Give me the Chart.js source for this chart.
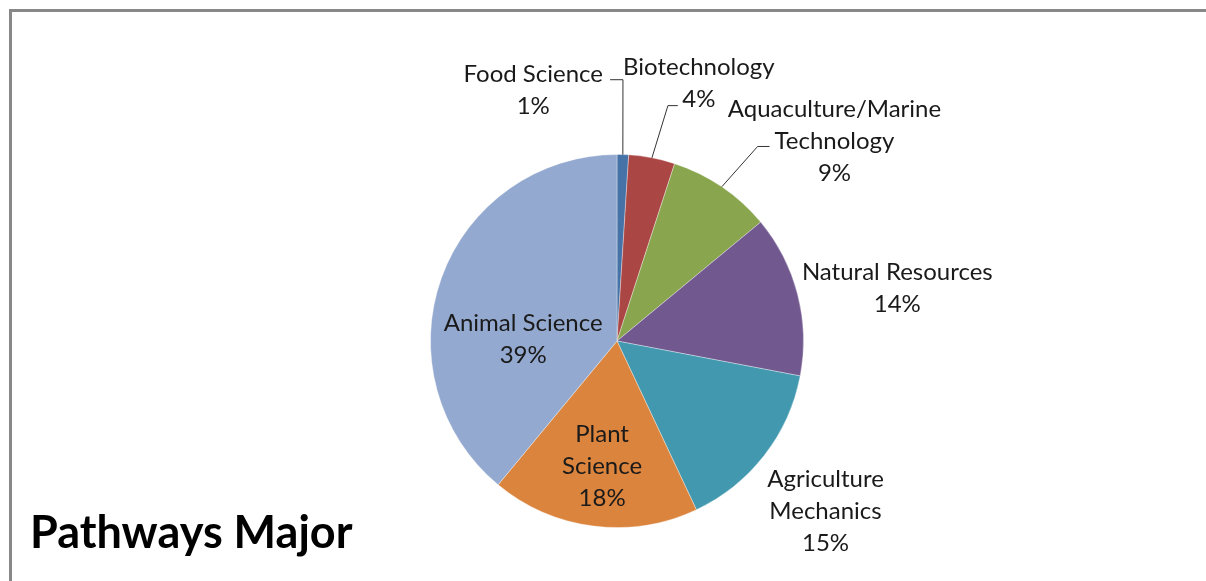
<!DOCTYPE html>
<html>
<head>
<meta charset="utf-8">
<title>Pathways Major</title>
<script src="https://cdn.jsdelivr.net/npm/chart.js@4.4.1/dist/chart.umd.min.js"></script>
<style>
    html, body { margin: 0; padding: 0; background: #fff; overflow: hidden; }
    #wrap { position: relative; width: 1206px; height: 581px; }
    #frame {
        position: absolute; left: 9px; top: 9px; width: 1220px; height: 600px;
        border-left: 3px solid #888; border-top: 3px solid #888;
    }
    #pieChart { position: absolute; left: 0; top: 0; }
</style>
</head>
<body>
<div id="wrap">
    <div id="frame"></div>
    <canvas id="pieChart" width="1206" height="581"></canvas>
</div>
<script>
// Pathways Major - pie chart

const categories = ['Food Science', 'Biotechnology', 'Aquaculture/Marine Technology', 'Natural Resources', 'Agriculture Mechanics', 'Plant Science', 'Animal Science'];
const percents = [1, 4, 9, 14, 15, 18, 39];
const labelLines = [
    ['Food Science'],
    ['Biotechnology'],
    ['Aquaculture/Marine', 'Technology'],
    ['Natural Resources'],
    ['Agriculture', 'Mechanics'],
    ['Plant', 'Science'],
    ['Animal Science']
];
const sliceColors = ['#4572A7', '#AA4643', '#89A54E', '#71588F', '#4198AF', '#DB843D', '#93A9CF'];

// label block centres, relative to the pie centre, in units of the radius
const labelOffsets = [
    [-0.449, -1.342], [0.439, -1.382], [1.166, -1.070], [1.503, -0.281],
    [1.118, 0.914], [-0.080, 0.674], [-0.503, -0.011]
];
// leader lines: elbow and end, relative to pie centre (radius units); null = none
const leaders = [
    [[0.032, -1.401], [-0.037, -1.401]],
    [[0.273, -1.262], [0.326, -1.262]],
    [[0.754, -1.043], [0.818, -1.043]],
    null, null, null, null
];

const FONT = 'Lato, Carlito, "Open Sans", sans-serif';
const LINE_H = 32;

const labelPlugin = {
    id: 'sliceLabels',
    afterDatasetsDraw(chart) {
        const ctx = chart.ctx;
        const meta = chart.getDatasetMeta(0);
        ctx.save();
        meta.data.forEach((arc, i) => {
            const { x, y, startAngle, endAngle, outerRadius } = arc.getProps(['x', 'y', 'startAngle', 'endAngle', 'outerRadius'], true);
            const r = outerRadius;
            if (leaders[i]) {
                const mid = (startAngle + endAngle) / 2;
                const sx = x + Math.cos(mid) * r;
                const sy = y + Math.sin(mid) * r;
                ctx.strokeStyle = '#333';
                ctx.lineWidth = 1;
                ctx.beginPath();
                ctx.moveTo(sx, sy);
                ctx.lineTo(x + leaders[i][0][0] * r, y + leaders[i][0][1] * r);
                ctx.lineTo(x + leaders[i][1][0] * r, y + leaders[i][1][1] * r);
                ctx.stroke();
            }
            const lines = labelLines[i].concat([percents[i] + '%']);
            const cx = x + labelOffsets[i][0] * r;
            const cy = y + labelOffsets[i][1] * r;
            ctx.fillStyle = '#1a1a1a';
            ctx.font = '24px ' + FONT;
            ctx.textAlign = 'center';
            ctx.textBaseline = 'middle';
            const top = cy - (lines.length - 1) * LINE_H / 2;
            lines.forEach((t, k) => ctx.fillText(t, cx, top + k * LINE_H));
        });
        // chart title, bottom left
        ctx.fillStyle = '#000';
        ctx.font = 'bold 45px ' + FONT;
        ctx.textAlign = 'left';
        ctx.textBaseline = 'alphabetic';
        ctx.fillText('Pathways Major', 30, 548);
        ctx.restore();
    }
};

new Chart(document.getElementById('pieChart'), {
    type: 'pie',
    data: {
        labels: categories,
        datasets: [{
            data: percents,
            backgroundColor: sliceColors,
            borderColor: 'rgba(255,255,255,0.35)',
            borderWidth: 1
        }]
    },
    options: {
        responsive: false,
        animation: false,
        layout: { padding: { left: 430, right: 402, top: 154, bottom: 53 } },
        plugins: {
            legend: { display: false },
            tooltip: { enabled: false }
        }
    },
    plugins: [labelPlugin]
});
</script>
</body>
</html>
